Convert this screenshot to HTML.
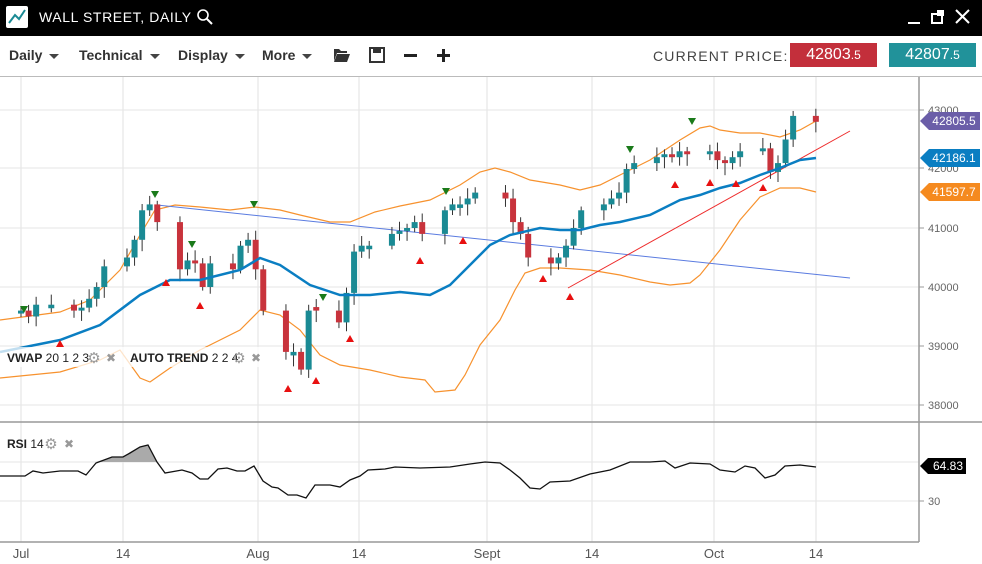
<!DOCTYPE html>
<html><head><meta charset="utf-8"><style>
body{margin:0;width:982px;height:564px;overflow:hidden;background:#fff;font-family:"Liberation Sans",sans-serif;position:relative}
.hdr{position:absolute;left:0;top:0;width:982px;height:36px;background:#000}
.tb{position:absolute;top:36px;left:0;width:982px;height:40px;border-bottom:1px solid #bbb}
.m{position:absolute;top:47px;font-size:14px;font-weight:bold;color:#333}
.m:after{content:"";display:inline-block;margin-left:7px;border-left:5px solid transparent;border-right:5px solid transparent;border-top:5px solid #444;vertical-align:middle}
.pb{position:absolute;top:43px;height:24px;color:#fff;font-size:16px;text-align:center;line-height:24px}
</style></head><body>
<div class="hdr"></div>
<div style="position:absolute;left:6px;top:6px;width:22px;height:22px;background:#fff;border-radius:2px"><svg width="22" height="22"><polyline points="3,17 9,9 13,13 19,4" fill="none" stroke="#1a8a94" stroke-width="2"/></svg></div>
<div style="position:absolute;left:39px;top:9px;color:#fff;font-size:14px;letter-spacing:0.6px">WALL STREET, DAILY</div>
<svg style="position:absolute;left:196px;top:8px" width="18" height="18"><circle cx="7" cy="7" r="5" fill="none" stroke="#fff" stroke-width="1.6"/><line x1="11" y1="11" x2="16" y2="16" stroke="#fff" stroke-width="2"/></svg>
<svg style="position:absolute;left:905px;top:8px" width="77" height="20"><line x1="3" y1="15" x2="15" y2="15" stroke="#fff" stroke-width="2"/><rect x="27" y="6" width="10" height="9" fill="none" stroke="#fff" stroke-width="2"/><rect x="32" y="2" width="7" height="6" fill="#fff"/><line x1="51" y1="2" x2="64" y2="15" stroke="#fff" stroke-width="2"/><line x1="64" y1="2" x2="51" y2="15" stroke="#fff" stroke-width="2"/></svg>
<div class="tb"></div>
<div class="m" style="left:9px">Daily</div>
<div class="m" style="left:79px">Technical</div>
<div class="m" style="left:178px">Display</div>
<div class="m" style="left:262px">More</div>
<svg style="position:absolute;left:332px;top:45px" width="125" height="20"><path d="M2,4h5l2,2h6v2H5l-3,8z M5,9h13l-3,8H2z" fill="#333"/><rect x="38" y="3" width="14" height="14" fill="none" stroke="#333" stroke-width="2"/><rect x="41" y="3" width="8" height="5" fill="#333"/><rect x="72" y="9" width="13" height="3" fill="#222"/><rect x="105" y="9" width="13" height="3" fill="#222"/><rect x="110" y="4" width="3" height="13" fill="#222"/></svg>
<div style="position:absolute;left:653px;top:48px;font-size:14px;color:#444;letter-spacing:1.2px">CURRENT PRICE:</div>
<div class="pb" style="left:790px;width:87px;background:#c32f3b">42803<span style="font-size:12px">.5</span></div>
<div class="pb" style="left:889px;width:87px;background:#21929a">42807<span style="font-size:12px">.5</span></div>
<svg id="c" style="position:absolute;left:0;top:77px" width="982" height="487"></svg>
<script>
var s=[],T=77;
function L(x1,y1,x2,y2,c,w){s.push('<line x1="'+x1+'" y1="'+(y1-T)+'" x2="'+x2+'" y2="'+(y2-T)+'" stroke="'+c+'" stroke-width="'+(w||1)+'"/>')}
function P(p,c,w,f){var q=[];for(var i=0;i<p.length;i+=2)q.push(p[i]+','+(p[i+1]-T));s.push('<polyline points="'+q.join(' ')+'" fill="'+(f||'none')+'" stroke="'+c+'" stroke-width="'+w+'"/>')}
function X(x,y,t,c,sz,a,fw){s.push('<text x="'+x+'" y="'+(y-T)+'" fill="'+c+'" font-size="'+sz+'" text-anchor="'+(a||'start')+'" font-weight="'+(fw||'normal')+'">'+t+'</text>')}
var gx=[21,123,258,359,487,592,714,816];
gx.forEach(function(x){L(x,77,x,542,'#e2e2e2')});
[110,168,228,287,346,405,462,501].forEach(function(y){L(0,y,919,y,'#e6e6e6')});
function Y(v){return 110+(43000-v)*0.0590}
P([96,462,112,457,123,457,130,453,140,447,148,445,157,462],'#999',0.1,'#aaa');
P([0,320,60,312,90,300,120,270,140,235,155,210,175,205,200,207,230,210,255,207,280,210,300,215,330,222,350,222,375,212,400,206,430,200,460,185,480,172,495,168,510,172,530,180,560,185,580,190,600,185,620,175,650,160,680,140,700,128,710,126,720,130,740,133,760,133,780,137,800,130,816,121],'#f7922e',1.2);
P([0,378,60,372,100,360,120,350,140,378,150,382,170,368,200,350,240,330,260,310,280,315,300,330,320,355,340,365,370,370,400,377,425,380,435,392,455,390,465,375,480,345,500,320,515,290,525,273,540,268,560,268,590,270,620,275,650,282,670,285,690,283,700,275,720,250,740,220,760,197,780,188,800,188,816,192],'#f7922e',1.2);
L(157,205,850,278,'#5a7be0',1);L(568,288,850,131,'#ee2b2b',1);
var cl=[39600,39500,39700,39700,39600,39650,39800,40000,40350,40500,40800,41300,41400,41100,40300,40450,40400,40000,40400,40300,40700,40800,40300,39600,38900,38900,38600,39600,39600,39400,39900,40600,40700,40700,40900,40950,41000,41100,40900,41300,41400,41400,41500,41600,41500,41100,40900,40500,40400,40500,40700,41000,41300,41400,41500,41600,42000,42100,42200,42250,42200,42300,42250,42300,42150,42100,42200,42300,42350,41950,42100,42500,42900,42800];
var k=0,prev=39550;
for(var day=0;day<=105;day++){var wd=day%7;if(wd==5||wd==6)continue;if(day==3||day==63)continue;if(k>=cl.length)break;
var x=21+day*7.57,c=cl[k],o=prev,up=c>=o;if(Math.abs(c-o)<40){o=c-(k%2?60:-60);up=c>=o}
var h=Math.max(o,c)+60+(k*37%120),l=Math.min(o,c)-60-(k*53%150);var col=up?'#1a8a94':'#c8333c';
L(x,Y(h),x,Y(l),'#333',1);var t=Y(Math.max(o,c)),b=Y(Math.min(o,c));
s.push('<rect x="'+(x-3)+'" y="'+(t-T)+'" width="6" height="'+Math.max(2,b-t)+'" fill="'+col+'"/>');prev=c;k++}
P([0,352,60,340,100,325,140,295,170,280,200,280,240,270,260,258,280,265,310,285,340,295,370,295,400,292,430,295,450,285,470,265,490,245,510,235,540,228,560,230,580,230,600,225,620,222,650,215,680,200,700,195,720,188,740,183,760,175,780,168,800,160,816,158],'#0a7ec2',2.5);
[[24,310],[155,195],[192,245],[254,205],[323,298],[446,192],[630,150],[692,122]].forEach(function(p){s.push('<polygon points="'+(p[0]-4)+','+(p[1]-4-T)+' '+(p[0]+4)+','+(p[1]-4-T)+' '+p[0]+','+(p[1]+3-T)+'" fill="#1a7a1a"/>')});
[[60,343],[166,282],[200,305],[288,388],[316,380],[350,338],[420,260],[463,240],[543,278],[570,296],[675,184],[710,182],[736,183],[763,187]].forEach(function(p){s.push('<polygon points="'+(p[0]-4)+','+(p[1]+4-T)+' '+(p[0]+4)+','+(p[1]+4-T)+' '+p[0]+','+(p[1]-3-T)+'" fill="#e81010"/>')});
P([0,476,25,476,33,471,43,473,60,471,78,471,86,475,96,463,112,457,123,457,130,453,140,447,148,445,157,462,165,473,182,470,192,473,200,479,208,479,218,469,227,468,237,471,245,471,254,466,263,481,272,487,278,488,288,495,297,495,306,498,315,485,330,485,340,487,350,480,360,476,368,470,385,469,395,467,420,468,450,467,470,464,485,462,500,463,510,470,520,478,530,488,540,489,550,482,570,481,590,474,610,470,630,462,650,462,665,461,675,468,690,463,710,464,720,470,735,472,745,466,755,468,765,478,775,475,785,466,800,465,816,467],'#111',1.3);
L(0,422,982,422,'#999',1.5);L(0,542,919,542,'#999',1.5);L(919,77,919,542,'#999',1.5);
[[110,'43000'],[168,'42000'],[228,'41000'],[287,'40000'],[346,'39000'],[405,'38000'],[501,'30']].forEach(function(a){L(919,a[0],924,a[0],'#999');X(928,a[0]+4,a[1],'#666',11)});
function tag(y,t,c){s.push('<polygon points="920,'+(y-T)+' 929,'+(y-9-T)+' 980,'+(y-9-T)+' 980,'+(y+9-T)+' 929,'+(y+9-T)+'" fill="'+c+'"/>');X(954,y+4,t,'#fff',12,'middle')}
tag(121,'42805.5','#6b5ea8');tag(158,'42186.1','#0a7ec2');tag(192,'41597.7','#f58a1f');
s.push('<polygon points="920,'+(466-T)+' 928,'+(458-T)+' 966,'+(458-T)+' 966,'+(474-T)+' 928,'+(474-T)+'" fill="#000"/>');X(948,470,'64.83','#fff',12,'middle');
[[21,'Jul'],[123,'14'],[258,'Aug'],[359,'14'],[487,'Sept'],[592,'14'],[714,'Oct'],[816,'14']].forEach(function(a){X(a[0],558,a[1],'#555',13,'middle')});
s.push('<rect x="0" y="'+(347-T)+'" width="270" height="20" fill="#fff" opacity="0.75"/>');
X(7,362,'<tspan font-weight="bold">VWAP</tspan> 20 1 2 3','#222',12);X(130,362,'<tspan font-weight="bold">AUTO TREND</tspan> 2 2 4','#222',12);
X(94,363,'⚙','#999',15,'middle');X(111,362,'✖','#999',12,'middle');X(239,363,'⚙','#999',15,'middle');X(256,362,'✖','#999',12,'middle');
X(7,448,'<tspan font-weight="bold">RSI</tspan> 14','#222',12);X(51,449,'⚙','#999',15,'middle');X(69,448,'✖','#999',12,'middle');
document.getElementById('c').innerHTML=s.join('');
</script>
</body></html>
